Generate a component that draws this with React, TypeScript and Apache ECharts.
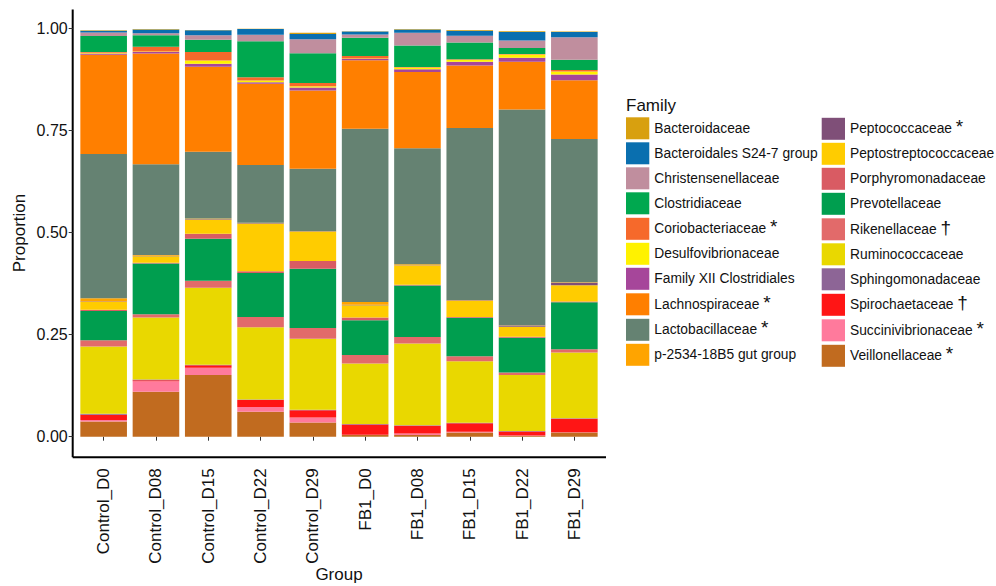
import React, { useEffect, useRef } from 'react';
import * as echarts from 'echarts';

const groups = [
  'Control_D0', 'Control_D08', 'Control_D15', 'Control_D22', 'Control_D29',
  'FB1_D0', 'FB1_D08', 'FB1_D15', 'FB1_D22', 'FB1_D29',
];

const families = [
  'Bacteroidaceae', 'Bacteroidales S24-7 group', 'Christensenellaceae', 'Clostridiaceae',
  'Coriobacteriaceae', 'Desulfovibrionaceae', 'Family XII Clostridiales', 'Lachnospiraceae',
  'Lactobacillaceae', 'p-2534-18B5 gut group', 'Peptococcaceae', 'Peptostreptococcaceae',
  'Porphyromonadaceae', 'Prevotellaceae', 'Rikenellaceae', 'Ruminococcaceae',
  'Sphingomonadaceae', 'Spirochaetaceae', 'Succinivibrionaceae', 'Veillonellaceae',
];

const markers = ['', '', '', '', '*', '', '', '*', '*', '', '*', '', '', '', '†', '', '', '†', '*', '*'];

const colors = [
  '#D8A00F', '#0A6FAF', '#C08E9E', '#00A84F', '#F6692B', '#FFF200', '#A6469A', '#FF7F00',
  '#658272', '#FFA400', '#7F4F78', '#FFCC00', '#D95B63', '#009E4F', '#E26A6A', '#E9D800',
  '#8D6596', '#FF1515', '#FF7A9C', '#C16B1F',
];

// values per group (Control_D0 ... FB1_D29)
const bacteroidaceae = [0.001, 0.001, 0.001, 0.001, 0.003, 0.001, 0.001, 0.002, 0.002, 0.001];
const s24_7 = [0.004, 0.009, 0.012, 0.014, 0.013, 0.007, 0.008, 0.012, 0.021, 0.013];
const christensenellaceae = [0.009, 0.005, 0.011, 0.016, 0.034, 0.008, 0.031, 0.017, 0.018, 0.055];
const clostridiaceae = [0.039, 0.028, 0.030, 0.088, 0.073, 0.045, 0.053, 0.041, 0.015, 0.025];
const coriobacteriaceae = [0.002, 0.012, 0.021, 0.008, 0.008, 0.006, 0.001, 0.001, 0.001, 0.004];
const desulfovibrionaceae = [0.002, 0.001, 0.008, 0.004, 0.003, 0.001, 0.004, 0.005, 0.008, 0.007];
const familyXII = [0.003, 0.004, 0.007, 0.004, 0.007, 0.003, 0.007, 0.009, 0.010, 0.014];
const lachnospiraceae = [0.243, 0.271, 0.208, 0.199, 0.192, 0.168, 0.187, 0.153, 0.117, 0.144];
const lactobacillaceae = [0.353, 0.222, 0.164, 0.141, 0.153, 0.424, 0.284, 0.421, 0.528, 0.351];
const p2534 = [0.008, 0.002, 0.001, 0.001, 0.001, 0.007, 0.002, 0.001, 0.001, 0.001];
const peptococcaceae = [0.001, 0.001, 0.001, 0.001, 0.001, 0.001, 0.001, 0.001, 0.003, 0.006];
const peptostreptococcaceae = [0.019, 0.016, 0.035, 0.117, 0.071, 0.030, 0.047, 0.040, 0.024, 0.040];
const porphyromonadaceae = [0.003, 0.002, 0.012, 0.004, 0.019, 0.007, 0.002, 0.002, 0.003, 0.002];
const prevotellaceae = [0.072, 0.124, 0.103, 0.108, 0.145, 0.085, 0.126, 0.094, 0.085, 0.115];
const rikenellaceae = [0.015, 0.008, 0.017, 0.025, 0.026, 0.021, 0.016, 0.012, 0.006, 0.008];
const ruminococcaceae = [0.165, 0.152, 0.189, 0.177, 0.174, 0.148, 0.200, 0.151, 0.137, 0.161];
const sphingomonadaceae = [0.002, 0.002, 0.001, 0.001, 0.001, 0.001, 0.001, 0.001, 0.001, 0.001];
const spirochaetaceae = [0.013, 0.002, 0.006, 0.017, 0.018, 0.025, 0.019, 0.021, 0.010, 0.033];
const succinivibrionaceae = [0.004, 0.026, 0.018, 0.012, 0.012, 0.001, 0.004, 0.002, 0.001, 0.001];
const veillonellaceae = [0.037, 0.110, 0.151, 0.061, 0.035, 0.004, 0.004, 0.010, 0.002, 0.010];

const familyValues = [
  bacteroidaceae, s24_7, christensenellaceae, clostridiaceae, coriobacteriaceae,
  desulfovibrionaceae, familyXII, lachnospiraceae, lactobacillaceae, p2534,
  peptococcaceae, peptostreptococcaceae, porphyromonadaceae, prevotellaceae, rikenellaceae,
  ruminococcaceae, sphingomonadaceae, spirochaetaceae, succinivibrionaceae, veillonellaceae,
];

const yTicks = [0, 0.25, 0.5, 0.75, 1];

const FONT = 'Liberation Sans, Arial, sans-serif';

export default function App() {
  const ref = useRef<HTMLDivElement>(null);

  useEffect(() => {
    document.body.style.margin = '0';
    if (!ref.current) return;
    const chart = echarts.init(ref.current, undefined, { renderer: 'svg' });

    const markerOf: Record<string, string> = {};
    families.forEach((f, i) => (markerOf[f] = markers[i]));

    const series = families
      .map((name, i) => ({
        name,
        type: 'bar' as const,
        stack: 'total',
        barWidth: 46.6,
        itemStyle: { color: colors[i] },
        emphasis: { disabled: true },
        data: familyValues[i],
      }))
      .reverse();

    const plotLeft = 77.5;
    const plotWidth = 523;
    const plotTop = 28.3;
    const plotHeight = 408.4;
    const axisX = 72.7;
    const axisY = 457.3;

    const legendBase = {
      show: true,
      orient: 'vertical',
      top: 117.3,
      padding: 0,
      itemWidth: 23.3,
      itemHeight: 22,
      itemGap: 3,
      selectedMode: false,
      icon: 'rect',
      textStyle: {
        fontSize: 13.8,
        color: '#111',
        fontFamily: FONT,
        rich: {
          m: { fontSize: 19, color: '#111', fontFamily: FONT, padding: [0, 0, 4, 0] },
        },
      },
      formatter: (name: string) => (markerOf[name] ? `${name} {m|${markerOf[name]}}` : name),
    };

    chart.setOption({
      animation: false,
      textStyle: { fontFamily: FONT },
      grid: { left: plotLeft, top: plotTop, width: plotWidth, height: plotHeight, containLabel: false },
      xAxis: {
        type: 'category',
        data: groups,
        offset: axisY - (plotTop + plotHeight),
        axisLine: { show: false },
        axisTick: { show: true, alignWithLabel: true, length: 4, lineStyle: { color: '#333', width: 1 } },
        axisLabel: { rotate: 90, margin: 11, fontSize: 17, color: '#111', fontFamily: FONT },
        splitLine: { show: false },
      },
      yAxis: {
        type: 'value',
        min: yTicks[0],
        max: yTicks[yTicks.length - 1],
        interval: 0.25,
        offset: plotLeft - axisX,
        axisLine: { show: false },
        axisTick: { show: true, length: 4, lineStyle: { color: '#333', width: 1 } },
        axisLabel: {
          fontSize: 16,
          color: '#111',
          margin: 5,
          fontFamily: FONT,
          formatter: (v: number) => v.toFixed(2),
        },
        splitLine: { show: false },
      },
      legend: [
        { ...legendBase, left: 626, data: families.slice(0, 10) },
        { ...legendBase, left: 821.7, data: families.slice(10) },
      ],
      graphic: [
        {
          type: 'line',
          shape: { x1: axisX, y1: 9.5, x2: axisX, y2: axisY },
          style: { stroke: '#000', lineWidth: 2 },
        },
        {
          type: 'line',
          shape: { x1: axisX, y1: axisY, x2: 606, y2: axisY },
          style: { stroke: '#000', lineWidth: 2 },
        },
        {
          type: 'text',
          x: 19,
          y: 233,
          rotation: Math.PI / 2,
          style: {
            text: 'Proportion',
            fontSize: 17,
            fontFamily: FONT,
            fill: '#111',
            textAlign: 'center',
            textVerticalAlign: 'middle',
          },
        },
        {
          type: 'text',
          x: 339,
          y: 574,
          style: {
            text: 'Group',
            fontSize: 17,
            fontFamily: FONT,
            fill: '#111',
            textAlign: 'center',
            textVerticalAlign: 'middle',
          },
        },
        {
          type: 'text',
          x: 626,
          y: 105,
          style: {
            text: 'Family',
            fontSize: 17,
            fontFamily: FONT,
            fill: '#111',
            textAlign: 'left',
            textVerticalAlign: 'middle',
          },
        },
      ],
      series,
    });

    return () => chart.dispose();
  }, []);

  return <div ref={ref} style={{ width: 996, height: 586, background: '#fff' }} />;
}
